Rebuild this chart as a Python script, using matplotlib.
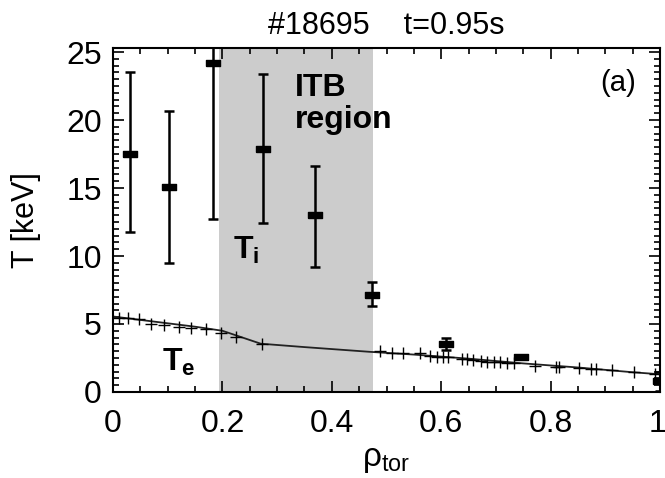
import matplotlib
matplotlib.use("Agg")
import matplotlib.pyplot as plt
import matplotlib.transforms as mtransforms
from matplotlib.ticker import MultipleLocator

plt.rcParams['font.family'] = ['Liberation Sans', 'DejaVu Sans']
plt.rcParams['mathtext.fontset'] = 'custom'
plt.rcParams['mathtext.rm'] = 'Liberation Sans'
plt.rcParams['mathtext.it'] = 'Liberation Sans'
plt.rcParams['mathtext.bf'] = 'Liberation Sans:bold'

# Ion temperature (T_i) with error bars
rho_ti = [0.031, 0.102, 0.183, 0.274, 0.369, 0.473, 0.609, 0.745, 1.0]
ti = [17.5, 15.1, 24.2, 17.9, 13.0, 7.1, 3.55, 2.6, 0.8]
ti_err_lo = [5.7, 5.6, 11.5, 5.5, 3.8, 0.8, 0.45, 0.15, 0.7]
ti_err_hi = [6.0, 5.6, 6.0, 5.5, 3.6, 1.0, 0.45, 0.15, 0.7]

# Electron temperature (T_e) measurements
rho_te = [0.011, 0.028, 0.048, 0.070, 0.094, 0.120, 0.143, 0.170, 0.198, 0.225, 0.272,
          0.488, 0.510, 0.531, 0.561, 0.580, 0.592, 0.604, 0.613, 0.638, 0.647, 0.659,
          0.672, 0.684, 0.696, 0.708, 0.721, 0.733, 0.772, 0.809, 0.815, 0.852, 0.873,
          0.883, 0.913, 0.953, 0.990]
te = [5.46, 5.41, 5.39, 4.97, 4.90, 4.80, 4.73, 4.60, 4.36, 4.04, 3.50,
      3.01, 2.84, 2.89, 2.89, 2.65, 2.57, 2.60, 2.57, 2.40, 2.40, 2.33,
      2.28, 2.23, 2.21, 2.21, 2.16, 2.11, 1.91, 1.86, 1.86, 1.79, 1.67,
      1.67, 1.60, 1.47, 1.35]

# Fitted T_e profile
rho_fit = [0.0, 0.05, 0.10, 0.15, 0.20, 0.27, 0.35, 0.47, 0.55, 0.65, 0.75, 0.85, 0.95, 1.0]
te_fit = [5.55, 5.3, 5.05, 4.8, 4.5, 3.55, 3.3, 2.95, 2.75, 2.45, 2.1, 1.8, 1.45, 1.3]

# ITB region
itb_range = [0.193, 0.475]

x_ticks = [0, 0.2, 0.4, 0.6, 0.8, 1.0]
x_ticklabels = ['0', '0.2', '0.4', '0.6', '0.8', '1']

fig = plt.figure(figsize=(6.65, 4.78), dpi=100)
ax = fig.add_axes([0.170, 0.180, 0.8225, 0.7196])

ax.axvspan(itb_range[0], itb_range[1], color='#cccccc', lw=0, zorder=0)

ax.plot(rho_fit, te_fit, color='#222222', lw=1.3, zorder=2)
ax.plot(rho_te, te, ls='none', marker='+', ms=9, mew=1.0, color='black', zorder=3)

rect = [(-2.2, -1), (2.2, -1), (2.2, 1), (-2.2, 1), (-2.2, -1)]
ax.errorbar(rho_ti, ti, yerr=[ti_err_lo, ti_err_hi], fmt='none', ecolor='black',
            elinewidth=1.8, capsize=3.5, capthick=1.8, zorder=4)
ax.plot(rho_ti, ti, ls='none', marker=rect, ms=10, color='black', zorder=5)

ax.set_xlim(0, 1)
ax.set_ylim(0, 25.3)
ax.xaxis.set_minor_locator(MultipleLocator(0.05))
ax.yaxis.set_major_locator(MultipleLocator(5))
ax.yaxis.set_minor_locator(MultipleLocator(0.5))
ax.set_xticks(x_ticks)
ax.set_xticklabels(x_ticklabels)
ax.tick_params(which='both', direction='in', top=True, right=True, labelsize=23, width=1.2)
ax.tick_params(which='major', length=8)
ax.tick_params(axis='x', which='major', pad=12)
ax.tick_params(axis='y', which='major', pad=8)
ax.tick_params(which='minor', length=4)
for s in ax.spines.values():
    s.set_linewidth(1.5)

# nudge last x tick label so it stays inside the figure
lbl = ax.get_xticklabels()[-1]
lbl.set_transform(lbl.get_transform() + mtransforms.ScaledTranslation(-3 / 100, 0, fig.dpi_scale_trans))

ax.set_ylabel('T [keV]', fontsize=22, labelpad=18)
ax.set_xlabel(r'$\mathregular{\rho_{tor}}$', fontsize=24, labelpad=4)
ax.set_title('#18695    t=0.95s', fontsize=22, pad=10)

ax.text(0.333, 21.2, 'ITB\nregion', fontsize=23, fontweight='bold', ha='left', va='center',
        linespacing=1.1)
ax.text(0.22, 10.4, r'$\mathbf{T_i}$', fontsize=23, ha='left', va='center')
ax.text(0.09, 2.2, r'$\mathbf{T_e}$', fontsize=23, ha='left', va='center')
ax.text(0.89, 22.7, '(a)', fontsize=21, ha='left', va='center')

fig.savefig('out.png', dpi=100)
